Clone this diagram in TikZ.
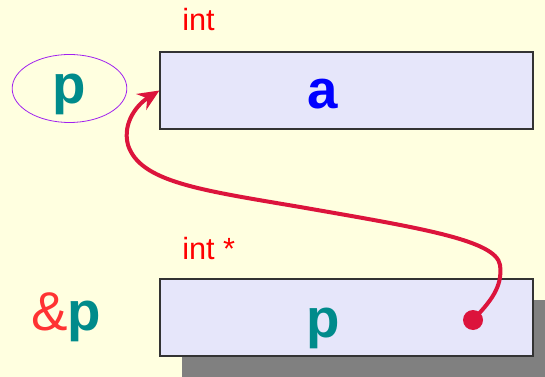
\documentclass[tikz,border=0pt]{standalone}
\usepackage{fontspec}
\setmainfont{Liberation Sans}
\usetikzlibrary{arrows.meta,shapes.geometric}
\definecolor{bg}{HTML}{FFFFE0}
\definecolor{cellfill}{HTML}{E6E6FA}
\definecolor{shadowgray}{HTML}{808080}
\definecolor{tealc}{HTML}{008B8B}
\definecolor{crimsonc}{HTML}{DC143C}
\definecolor{purplec}{HTML}{A020F0}
\definecolor{ampred}{HTML}{FF3333}
\tikzset{
  cell/.style={draw=black!80, line width=0.9pt, fill=cellfill, minimum width=279.75pt, minimum height=57.75pt, inner sep=0pt},
  bigtxt/.style={font=\fontsize{41}{41}\selectfont\bfseries},
  typelbl/.style={font=\fontsize{23}{23}\selectfont, text=red, anchor=base west, inner sep=0pt},
  link/.style={draw=crimsonc, line width=3pt},
  pdotstyle/.style={circle, fill=crimsonc, minimum size=15pt, inner sep=0pt},
  varell/.style={ellipse, draw=purplec, line width=0.6pt, minimum width=86pt, minimum height=51pt, inner sep=0pt}
}
\begin{document}
\begin{tikzpicture}[x=0.75pt,y=-0.75pt]
\fill[bg] (0,0) rectangle (545,377);
\useasboundingbox (0,0) rectangle (545,377);
% shadow of lower cell
\fill[shadowgray] (182,300) rectangle (545,377);
% cells
\node[cell] (abox) at (346.5,90.5) {};
\node[cell] (pbox) at (346.5,317.5) {};
\node[bigtxt, text=blue] (atext) at (323,94) {a};
\node[bigtxt, text=tealc] (ptext) at (323,328) {p};
% type labels
\node[typelbl] (int1) at (182,31) {int};
\node[typelbl] (int2) at (182,259) {int *};
% names
\node[varell] (pell) at (69.5,88.5) {};
\node[bigtxt, text=tealc] (pname) at (69,94) {p};
\node[font=\fontsize{41}{41}\selectfont, anchor=base] (amp) at (66,330) {\textcolor{ampred}{\&}\textcolor{tealc}{\bfseries p}};
% pointer
\node[pdotstyle] (pdot) at (473,320) {};
\draw[link, -{Stealth[length=16pt,width=14pt]}] (pdot.center)
  .. controls (490,302) and (503,287) .. (500,265)
  .. controls (496,240) and (420,228) .. (300,207)
  .. controls (200,190) and (140,182) .. (128,145)
  .. controls (122,122) and (138,104) .. (abox.west);
\end{tikzpicture}
\end{document}
